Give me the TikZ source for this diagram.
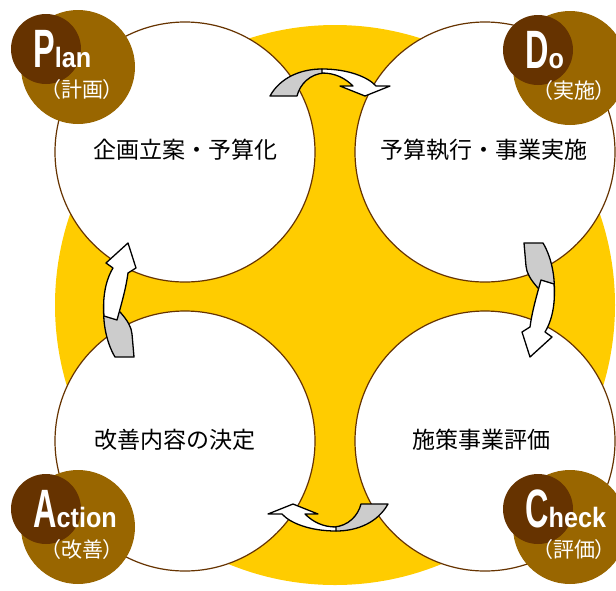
\documentclass[tikz,border=0pt]{standalone}
\usepackage{fontspec}
\usepackage{graphicx}
\newfontfamily\cjk{Noto Sans CJK JP}
\newfontfamily\cjkp{Noto Sans CJK JP}[RawFeature=+palt]
\newfontfamily\badgefont{Liberation Sans}
\definecolor{cycleyellow}{HTML}{FFCC00}
\definecolor{darkbrown}{HTML}{663300}
\definecolor{lightbrown}{HTML}{996600}
\definecolor{arrowgray}{HTML}{CCCCCC}
\tikzset{
	stagecircle/.style = {fill=white, draw=darkbrown, line width=1.2pt},
	stagetext/.style = {font=\cjk\fontsize{23}{23}\selectfont, inner sep=0pt},
	arrowback/.style = {fill=arrowgray, draw=black, line width=1.3pt, line join=round},
	arrowfront/.style = {fill=white, draw=black, line width=1.3pt, line join=round},
	bigletter/.style = {text=white, font=\badgefont\bfseries, inner sep=0pt, anchor=base west},
	subtext/.style = {text=white, font=\cjkp\fontsize{21}{21}\selectfont, inner sep=0pt}
}
% 上の矢印
\newcommand{\toploop}{
	\filldraw [arrowback] (270, 96) .. controls (280, 78) and (300, 69) .. (322, 69) --
	(324, 73) .. controls (310, 74) and (300, 84) .. (297, 96) -- cycle;
	\filldraw [arrowfront] (322, 69) .. controls (348, 69) and (368, 77) .. (376, 86) --
	(390, 86) -- (365, 96) -- (340, 86) -- (353, 86) ..
	controls (345, 78) and (335, 73) .. (322, 73) -- cycle;
}
% 右の矢印
\newcommand{\rightloop}{
	\filldraw [arrowback] (524, 243) -- (543, 243) .. controls (552, 258) and (557, 282) .. (553, 305) ..
	controls (543, 292) and (527, 280) .. (526, 266) -- cycle;
	\filldraw [arrowfront] (554, 284) .. controls (556, 308) and (550, 324) .. (545, 332) --
	(552, 337) -- (530, 357) -- (522, 332) -- (530, 327) ..
	controls (532, 312) and (536, 298) .. (541, 280) -- cycle;
}
\begin{document}
\begin{tikzpicture}[x=1pt, y=-1pt]
	\useasboundingbox (0, 0) rectangle (616, 590);
	\clip (0, 0) rectangle (616, 590);
	% 背景
	\fill [cycleyellow] (335, 305) circle [radius=280pt];
	% 四つの円
	\draw [stagecircle] (185, 152) circle [radius=130pt];
	\draw [stagecircle] (485, 152) circle [radius=130pt];
	\draw [stagecircle] (185, 441) circle [radius=130pt];
	\draw [stagecircle] (485, 441) circle [radius=130pt];
	\node [stagetext] (plantext) at (185, 150) {企画立案・予算化};
	\node [stagetext] (dotext) at (484, 150) {予算執行・事業実施};
	\node [stagetext] (actiontext) at (175, 440) {改善内容の決定};
	\node [stagetext] (checktext) at (481, 440) {施策事業評価};
	% 矢印
	\toploop
	\rightloop
	\begin{scope}[rotate around={180:(329, 300)}]
		\toploop
		\rightloop
	\end{scope}
	% バッジ
	\foreach \x/\y/\big/\rest/\sub/\name in {46/49/P/lan/（計画）/plan, 538/50/D/o/（実施）/do,
		46/509/A/ction/（改善）/action, 538/509/C/heck/（評価）/check} {
		\fill [lightbrown] (\x+32, \y+18) circle [radius=57pt];
		\fill [darkbrown] (\x, \y) circle [radius=35pt];
		\node [bigletter] (\name badge) at (\x-13, \y+18)
			{{\fontsize{54}{54}\selectfont\scalebox{0.6}[1]{\big}}{\fontsize{28}{28}\selectfont\scalebox{0.9}[1]{\rest}}};
		\node [subtext] (\name sub) at (\x+36, \y+41) {\sub};
	}
\end{tikzpicture}
\end{document}
